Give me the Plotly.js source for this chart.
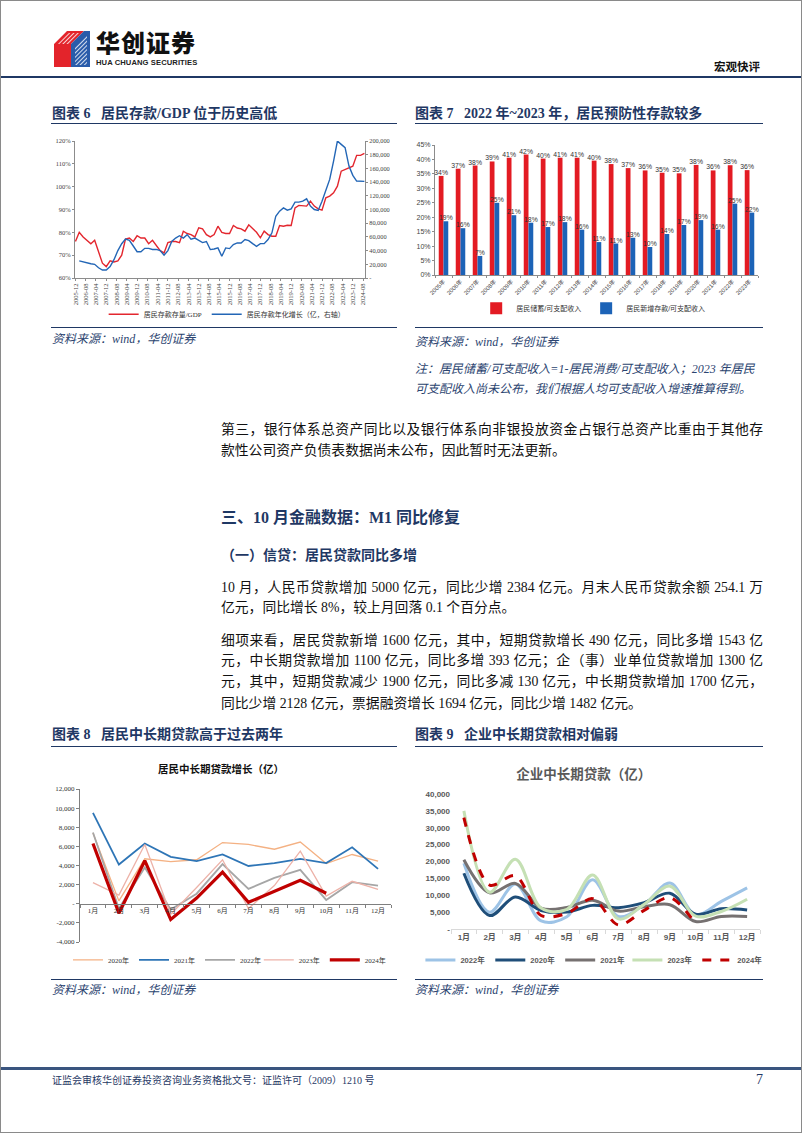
<!DOCTYPE html>
<html><head><meta charset="utf-8">
<script src="https://cdn.plot.ly/plotly-3.0.1.min.js"></script>
<style>
html,body{margin:0;padding:0;background:#fff;}
#page{position:relative;width:800px;height:1131px;border:1px solid #8a8a8a;background:#fff;overflow:hidden;
 font-family:"Liberation Serif","Noto Sans CJK SC",serif;color:#111;}
.abs{position:absolute;}
.nw{white-space:nowrap;}
.navy{color:#1F3864;}
.hl{position:absolute;background:#1F3864;}
.ctitle{position:absolute;white-space:nowrap;font-size:14px;font-weight:700;color:#1F3864;line-height:18px;}
.src{position:absolute;white-space:nowrap;font-size:12px;font-style:italic;color:#2B4470;line-height:16px;}
.body{position:absolute;left:220px;width:542px;font-size:13.8px;line-height:20px;color:#111;}
.full{text-align:justify;text-align-last:justify;}
.chart{position:absolute;}
</style>
</head><body>
<div id="page">
  <!-- header -->
  <svg class="abs" style="left:53px;top:30px" width="36" height="36" viewBox="0 0 36 36">
    <defs>
      <pattern id="stripesR" width="3" height="3" patternUnits="userSpaceOnUse" patternTransform="rotate(45)">
        <rect width="3" height="3" fill="#E3242B"/><rect width="0.8" height="3" fill="#fff"/>
      </pattern>
      <pattern id="stripesB" width="3" height="3" patternUnits="userSpaceOnUse" patternTransform="rotate(45)">
        <rect width="3" height="3" fill="#2A5CAA"/><rect width="0.8" height="3" fill="#fff"/>
      </pattern>
    </defs>
    <polygon points="0,13 13,0 30,0 17,13 17,36 0,36" fill="#E3242B"/>
    <polygon points="3,13 14,2 28,2 16,13" fill="url(#stripesR)"/>
    <polygon points="17,13 30,0 36,0 36,36 17,36" fill="#2A5CAA"/>
    <polygon points="21,34 21,16 33,4 33,34" fill="url(#stripesB)"/>
  </svg>
  <div class="abs nw" style="left:95px;top:28px;font-family:'Noto Sans CJK SC';font-weight:900;font-size:24px;line-height:26px;color:#111;letter-spacing:1px">华创证券</div>
  <div class="abs nw" style="left:95px;top:57px;font-family:'Liberation Sans','Noto Sans CJK SC';font-weight:700;font-size:7.6px;line-height:9px;color:#222;letter-spacing:0.1px">HUA CHUANG SECURITIES</div>
  <div class="abs nw" style="left:713px;top:57px;font-family:'Noto Sans CJK SC';font-weight:700;font-size:11.5px;line-height:16px;color:#111">宏观快评</div>
  <div class="hl" style="left:0;top:75px;width:800px;height:2px"></div>

  <!-- chart 6 / 7 titles -->
  <div class="ctitle" style="left:51px;top:104px">图表 6&nbsp;&nbsp;&nbsp;居民存款/GDP 位于历史高低</div>
  <div class="hl" style="left:50px;top:122px;width:346px;height:1px"></div>
  <div class="ctitle" style="left:414px;top:104px">图表 7&nbsp;&nbsp;&nbsp;2022 年~2023 年，居民预防性存款较多</div>
  <div class="hl" style="left:414px;top:122px;width:348px;height:1px"></div>

  <div id="c6" class="chart" style="left:40px;top:128px;width:358px;height:196px"></div>
  <div id="c7" class="chart" style="left:405px;top:128px;width:360px;height:196px"></div>

  <div class="hl" style="left:50px;top:326px;width:346px;height:1px"></div>
  <div class="hl" style="left:414px;top:326px;width:348px;height:1px"></div>
  <div class="src" style="left:51px;top:330px">资料来源：wind，华创证券</div>
  <div class="src" style="left:414px;top:333px">资料来源：wind，华创证券</div>
  <div class="src" style="left:414px;top:360px">注：居民储蓄/可支配收入=1-居民消费/可支配收入；2023 年居民</div>
  <div class="src" style="left:414px;top:380px">可支配收入尚未公布，我们根据人均可支配收入增速推算得到。</div>

  <!-- body text -->
  <div class="body full" style="top:419px">第三，银行体系总资产同比以及银行体系向非银投放资金占银行总资产比重由于其他存</div>
  <div class="body nw" style="top:440px">款性公司资产负债表数据尚未公布，因此暂时无法更新。</div>

  <div class="abs nw navy" style="left:220px;top:506px;font-size:16px;font-weight:700;line-height:22px">三、10 月金融数据：M1 同比修复</div>
  <div class="abs nw navy" style="left:220px;top:545px;font-size:14px;font-weight:700;line-height:20px">（一）信贷：居民贷款同比多增</div>

  <div class="body full" style="top:577px">10 月，人民币贷款增加 5000 亿元，同比少增 2384 亿元。月末人民币贷款余额 254.1 万</div>
  <div class="body nw" style="top:597px">亿元，同比增长 8%，较上月回落 0.1 个百分点。</div>
  <div class="body full" style="top:630px">细项来看，居民贷款新增 1600 亿元，其中，短期贷款增长 490 亿元，同比多增 1543 亿</div>
  <div class="body full" style="top:650px">元，中长期贷款增加 1100 亿元，同比多增 393 亿元；企（事）业单位贷款增加 1300 亿</div>
  <div class="body full" style="top:671px">元，其中，短期贷款减少 1900 亿元，同比多减 130 亿元，中长期贷款增加 1700 亿元，</div>
  <div class="body nw" style="top:693px">同比少增 2128 亿元，票据融资增长 1694 亿元，同比少增 1482 亿元。</div>

  <!-- chart 8 / 9 titles -->
  <div class="ctitle" style="left:51px;top:725px">图表 8&nbsp;&nbsp;&nbsp;居民中长期贷款高于过去两年</div>
  <div class="hl" style="left:50px;top:745px;width:346px;height:1px"></div>
  <div class="ctitle" style="left:414px;top:725px">图表 9&nbsp;&nbsp;&nbsp;企业中长期贷款相对偏弱</div>
  <div class="hl" style="left:414px;top:745px;width:348px;height:1px"></div>

  <div id="c8" class="chart" style="left:40px;top:748px;width:360px;height:228px"></div>
  <div id="c9" class="chart" style="left:405px;top:748px;width:360px;height:228px"></div>

  <div class="hl" style="left:50px;top:978px;width:346px;height:1px"></div>
  <div class="hl" style="left:414px;top:978px;width:348px;height:1px"></div>
  <div class="src" style="left:51px;top:981px">资料来源：wind，华创证券</div>
  <div class="src" style="left:414px;top:981px">资料来源：wind，华创证券</div>

  <!-- footer -->
  <div class="hl" style="left:0;top:1066px;width:800px;height:3px;background:#3A557F"></div>
  <div class="abs nw navy" style="left:51px;top:1073px;font-size:10px;line-height:14px">证监会审核华创证券投资咨询业务资格批文号：证监许可（2009）1210 号</div>
  <div class="abs nw navy" style="left:755px;top:1070px;font-size:14px;line-height:18px">7</div>
</div>

<script>
// ---------------- Chart 6 data ----------------
const c6Ticks = ['2005-12','2006-08','2007-04','2007-12','2008-08','2009-04','2009-12','2010-08','2011-04','2011-12','2012-08','2013-04','2013-12','2014-08','2015-04','2015-12','2016-08','2017-04','2017-12','2018-08','2019-04','2019-12','2020-08','2021-04','2021-12','2022-08','2023-04','2023-12','2024-08'];
// 居民存款存量/GDP (%), quarterly from 2005-12
const c6DepositGDP = [76,80,78,76.5,75,76.5,71,66.5,65,67.5,67,67.5,70,77,77.5,76,78.5,77.5,77.5,75,
  76.5,74.5,72,71,75.5,76,76,75.5,80.5,79.5,79,78,82,81.5,79,78,79,
  82.7,80,79.5,79.5,83,81.9,81.5,80.5,83.3,81.5,80,77.6,80.5,79,78.3,78.3,83,82.7,83.1,83,
  90.7,91.8,91.8,91.5,93.7,91.5,90.3,89.7,95.1,95.9,97.3,100.2,106.8,107.6,108.3,109,113.7,113.7,114.6];
// 居民存款年化增长（亿）, quarterly from 2006-03
const c6DepositGrowth = [25000,23300,21700,20800,20000,15000,11700,11700,16700,26700,40000,50000,56700,55000,46700,38300,38300,43300,43300,41700,
  41700,40000,33300,40000,53300,58300,61700,58300,63300,56700,58300,55000,51700,53300,
  41500,42400,43900,31700,43900,42900,48800,51200,51200,56100,54600,50200,46300,50200,50200,56100,65900,90200,97600,102400,
  99000,101000,110700,110700,112200,115600,104900,100000,98500,112200,129300,143900,170700,200000,195100,190200,163400,149800,141500,141500,141000];
const c6RightTicks = [0,20000,40000,60000,80000,100000,120000,140000,160000,180000,200000];
const c6RightText = ['-','20,000','40,000','60,000','80,000','100,000','120,000','140,000','160,000','180,000','200,000'];

// ---------------- Chart 7 data ----------------
const c7Years = ['2005年','2006年','2007年','2008年','2009年','2010年','2011年','2012年','2013年','2014年','2015年','2016年','2017年','2018年','2019年','2020年','2021年','2022年','2023年'];
const c7SavingRate = [34.3,36.8,37.9,39.3,40.6,41.7,40.3,40.6,40.6,39.6,38.4,37.0,36.2,35.4,35.2,38.1,36.2,38.0,36.3];
const c7NewDeposit = [18.6,16.2,6.6,25.0,20.7,18.1,16.6,18.3,15.7,11.4,10.9,12.9,9.7,14.2,17.3,19.0,15.7,24.7,21.6];

// ---------------- Chart 8 data ----------------
const months = ['1月','2月','3月','4月','5月','6月','7月','8月','9月','10月','11月','12月'];
const hh2020 = [7400,300,4700,4400,4600,6400,6200,5700,6450,4200,5150,4450];
const hh2021 = [9500,4100,6300,4900,4450,5150,3950,4250,4700,4250,5900,3650];
const hh2022 = [7450,-500,3800,-600,1050,4150,1550,2700,3550,400,2250,1900];
const hh2023 = [2200,900,6200,-1100,1700,4600,-500,1900,5500,800,2350,1500];
const hh2024 = [6300,-1000,4500,-1650,600,3300,150,1300,2450,1100];
const c8Ticks = [-4000,-2000,0,2000,4000,6000,8000,10000,12000];
const c8TickText = ['-4,000','-2,000','-','2,000','4,000','6,000','8,000','10,000','12,000'];

// ---------------- Chart 9 data ----------------
const ent2022 = [19500,5000,13300,2400,3600,14600,3700,7200,13600,4200,8200,12200];
const ent2020 = [16500,4000,9500,5500,5000,7000,6300,7800,10600,4400,6000,5600];
const ent2021 = [20500,10700,13500,6200,6400,8500,5300,6600,7200,2200,3700,3700];
const ent2023 = [35000,10900,20700,6200,5800,16000,3000,7300,12700,3800,5200,8800];
const ent2024 = [33000,13000,15800,4000,4600,9000,1200,5500,9300,1500];
const c9Ticks = [0,5000,10000,15000,20000,25000,30000,35000,40000];
const c9TickText = ['-','5,000','10,000','15,000','20,000','25,000','30,000','35,000','40,000'];

function quarterDates(y, m, n){
  const out=[];
  for(let i=0;i<n;i++){
    const mm=m-1+3*i;
    const yy=y+Math.floor(mm/12);
    const mo=(mm%12)+1;
    out.push(yy+'-'+String(mo).padStart(2,'0')+'-01');
  }
  return out;
}

const SERIF = '"Liberation Serif","Noto Sans CJK SC",serif';
const SANS = '"Liberation Sans","Noto Sans CJK SC",sans-serif';
const cfg = {staticPlot:true, displayModeBar:false};
const blank = 'rgba(0,0,0,0)';

// Chart 6
Plotly.newPlot('c6', [
  {type:'scatter', mode:'lines', name:'居民存款存量/GDP', x:quarterDates(2005,12,c6DepositGDP.length), y:c6DepositGDP,
   line:{color:'#E3262E', width:1.4}},
  {type:'scatter', mode:'lines', name:'居民存款年化增长（亿，右轴）', x:quarterDates(2006,3,c6DepositGrowth.length), y:c6DepositGrowth, yaxis:'y2',
   line:{color:'#2366B6', width:1.4}}
], {
  width:358, height:196, margin:{l:34,r:34,t:12,b:47},
  paper_bgcolor:blank, plot_bgcolor:blank,
  font:{family:SERIF, size:6.5, color:'#444'},
  xaxis:{type:'date', range:['2005-11-20','2024-09-15'], tickvals:c6Ticks.map(t=>t+'-01'), ticktext:c6Ticks,
         tickangle:-90, tickfont:{size:6.5}, showgrid:false, showline:true, linecolor:'#8c8c8c', ticks:'outside', ticklen:2, tickcolor:'#8c8c8c', zeroline:false},
  yaxis:{range:[60,120], dtick:10, ticksuffix:'%', showgrid:false, showline:true, linecolor:'#8c8c8c', ticks:'outside', ticklen:2, tickcolor:'#8c8c8c', zeroline:false, tickfont:{size:6.5}},
  yaxis2:{overlaying:'y', side:'right', range:[0,200000], tickvals:c6RightTicks, ticktext:c6RightText, showgrid:false, showline:true, linecolor:'#8c8c8c', ticks:'outside', ticklen:2, tickcolor:'#8c8c8c', zeroline:false, tickfont:{size:6.3}},
  showlegend:true,
  legend:{orientation:'h', xref:'container', x:0.52, xanchor:'center', yref:'container', y:0.055, yanchor:'middle', font:{size:7, color:'#333'}, itemwidth:30, bgcolor:blank}
}, cfg);

// Chart 7
Plotly.newPlot('c7', [
  {type:'bar', name:'居民储蓄/可支配收入', x:c7Years, y:c7SavingRate, marker:{color:'#E31B23'},
   texttemplate:'%{y:.0f}%', textposition:'outside', textangle:0, constraintext:'none', cliponaxis:false,
   textfont:{size:6.8, color:'#333', family:SANS}},
  {type:'bar', name:'居民新增存款/可支配收入', x:c7Years, y:c7NewDeposit, marker:{color:'#1C63B7'},
   texttemplate:'%{y:.0f}%', textposition:'outside', textangle:0, constraintext:'none', cliponaxis:false,
   textfont:{size:6.8, color:'#333', family:SANS}}
], {
  width:360, height:196, margin:{l:29,r:8,t:16,b:50},
  paper_bgcolor:blank, plot_bgcolor:blank,
  font:{family:SANS, size:7, color:'#444'},
  barmode:'group', bargap:0.44, bargroupgap:0,
  xaxis:{type:'category', tickangle:-45, tickfont:{size:5.8}, showline:true, linecolor:'#8c8c8c', ticks:'outside', ticklen:2, tickcolor:'#8c8c8c', tickson:'boundaries'},
  yaxis:{range:[0,45], dtick:5, ticksuffix:'%', showgrid:false, showline:true, linecolor:'#8c8c8c', ticks:'outside', ticklen:2, tickcolor:'#8c8c8c', zeroline:false, tickfont:{size:7}},
  showlegend:true,
  legend:{orientation:'h', xref:'container', x:0.52, xanchor:'center', yref:'container', y:0.085, yanchor:'middle', font:{size:7, color:'#333'}, bgcolor:blank}
}, cfg);

// Chart 8
Plotly.newPlot('c8', [
  {type:'scatter', mode:'lines', name:'2020年', x:months, y:hh2020, line:{color:'#F4B183', width:1.3}},
  {type:'scatter', mode:'lines', name:'2021年', x:months, y:hh2021, line:{color:'#2E75B6', width:1.8}},
  {type:'scatter', mode:'lines', name:'2022年', x:months, y:hh2022, line:{color:'#A6A6A6', width:1.8}},
  {type:'scatter', mode:'lines', name:'2023年', x:months, y:hh2023, line:{color:'#EDB2A8', width:1.3}, legend:'legend2'},
  {type:'scatter', mode:'lines', name:'2024年', x:months.slice(0,hh2024.length), y:hh2024, line:{color:'#C00000', width:3.2}, legend:'legend2'}
], {
  width:360, height:228, margin:{l:39,r:10,t:40,b:35},
  paper_bgcolor:blank, plot_bgcolor:blank,
  font:{family:SERIF, size:7, color:'#333'},
  title:{text:'居民中长期贷款增长（亿）', font:{size:10.5, weight:'bold', color:'#111', family:SERIF}, x:0.5, xref:'container', xanchor:'center', y:0.912, yref:'container', yanchor:'middle'},
  xaxis:{type:'category', range:[-0.5,11.5], anchor:'free', position:0.25, showline:true, linecolor:'#7f7f7f', ticks:'outside', tickson:'boundaries', ticklen:3, tickcolor:'#7f7f7f', showgrid:false, tickangle:0, tickfont:{size:7}},
  yaxis:{range:[-4000,12000], tickvals:c8Ticks, ticktext:c8TickText, showgrid:false, showline:true, linecolor:'#7f7f7f', ticks:'outside', ticklen:3, tickcolor:'#7f7f7f', zeroline:false, tickfont:{size:7}},
  showlegend:true,
  legend:{orientation:'h', xref:'container', x:0.075, xanchor:'left', yref:'container', y:0.075, yanchor:'middle', font:{size:7, color:'#333'}, bgcolor:blank},
  legend2:{orientation:'h', xref:'container', x:0.605, xanchor:'left', yref:'container', y:0.075, yanchor:'middle', font:{size:7, color:'#333'}, bgcolor:blank}
}, cfg);

// Chart 9
Plotly.newPlot('c9', [
  {type:'scatter', mode:'lines', name:'2022年', x:months, y:ent2022, line:{color:'#9DC3E6', width:3, shape:'spline', smoothing:1}},
  {type:'scatter', mode:'lines', name:'2020年', x:months, y:ent2020, line:{color:'#1F4E79', width:3, shape:'spline', smoothing:1}},
  {type:'scatter', mode:'lines', name:'2021年', x:months, y:ent2021, line:{color:'#767171', width:3, shape:'spline', smoothing:1}},
  {type:'scatter', mode:'lines', name:'2023年', x:months, y:ent2023, line:{color:'#C5E0B4', width:3, shape:'spline', smoothing:1}, legend:'legend2'},
  {type:'scatter', mode:'lines', name:'2024年', x:months.slice(0,ent2024.length), y:ent2024, line:{color:'#C00000', width:3, dash:'dash', shape:'spline', smoothing:0.9}, legend:'legend2'}
], {
  width:360, height:228, margin:{l:45,r:6,t:45,b:48},
  paper_bgcolor:blank, plot_bgcolor:blank,
  font:{family:SANS, size:8, color:'#595959', weight:'bold'},
  title:{text:'企业中长期贷款（亿）', font:{size:13.5, weight:'bold', color:'#595959', family:SANS}, x:0.494, xref:'container', xanchor:'center', y:0.89, yref:'container', yanchor:'middle'},
  xaxis:{type:'category', range:[-0.5,11.5], showline:true, linecolor:'#D9D9D9', ticks:'outside', tickson:'boundaries', ticklen:4, tickcolor:'#D9D9D9', showgrid:false, tickangle:0, tickfont:{size:8, weight:'bold', color:'#595959'}},
  yaxis:{range:[0,40000], tickvals:c9Ticks, ticktext:c9TickText, showgrid:false, showline:false, zeroline:false, tickfont:{size:8, weight:'bold', color:'#595959'}},
  showlegend:true,
  legend:{orientation:'h', xref:'container', x:0.04, xanchor:'left', yref:'container', y:0.075, yanchor:'middle', font:{size:7.6, color:'#595959', weight:'bold'}, bgcolor:blank},
  legend2:{orientation:'h', xref:'container', x:0.615, xanchor:'left', yref:'container', y:0.075, yanchor:'middle', font:{size:7.6, color:'#595959', weight:'bold'}, bgcolor:blank}
}, cfg);
</script>
</body></html>
